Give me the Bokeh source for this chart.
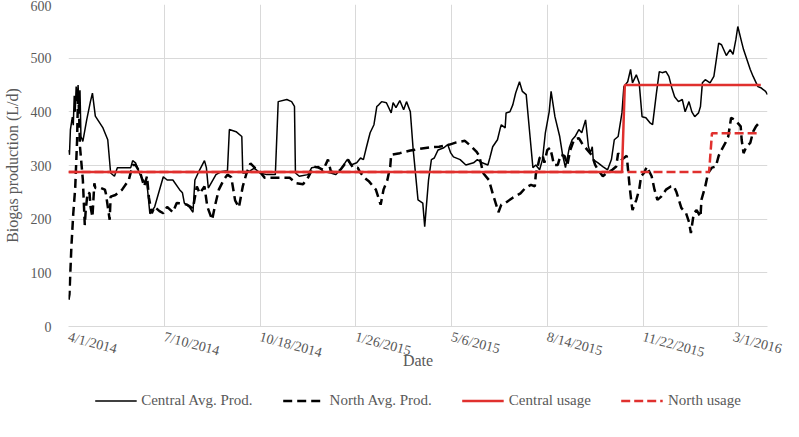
import datetime as dt
import pandas as pd
from bokeh.plotting import figure
from bokeh.layouts import column
from bokeh.models import FixedTicker, Legend, LegendItem, Range1d
from bokeh.embed import file_html
from bokeh.resources import INLINE

# ---------------- data ----------------
start_date = "2014-04-01"
end_date = "2016-03-31"
tick_labels = ["4/1/2014", "7/10/2014", "10/18/2014", "1/26/2015",
               "5/6/2015", "8/14/2015", "11/22/2015", "3/1/2016"]
y_ticks = [0, 100, 200, 300, 400, 500, 600]
series_names = ["Central Avg. Prod.", "North Avg. Prod.", "Central usage", "North usage"]

# days since 4/1/2014
central_day = [0, 1, 2, 4, 5, 6, 7, 8, 9, 10, 11, 12, 13, 15, 19, 23, 25, 28, 36, 41,
               44, 48, 51, 65, 67, 70, 74, 77, 82, 85, 90, 99, 103, 109, 116, 119, 121,
               126, 130, 132, 137, 142, 144, 146, 154, 160, 166, 168, 175, 181, 182, 186,
               194, 200, 207, 216, 219, 228, 233, 236, 237, 241, 250, 254, 261, 266, 274,
               279, 284, 291, 295, 301, 305, 308, 311, 315, 319, 322, 324, 327, 332, 337,
               339, 342, 346, 350, 353, 357, 360, 361, 365, 370, 372, 376, 379, 382, 386,
               392, 396, 399, 402, 409, 415, 423, 427, 432, 438, 440, 443, 448, 451, 452,
               456, 457, 461, 464, 467, 471, 474, 478, 482, 485, 488, 492, 495, 498, 502,
               504, 508, 513, 516, 519, 523, 526, 529, 533, 536, 540, 543, 545, 547, 548,
               553, 558, 563, 567, 570, 574, 578, 580, 584, 587, 589, 593, 596, 599, 603,
               607, 610, 614, 617, 620, 624, 627, 630, 633, 637, 641, 644, 648, 651, 654,
               658, 660, 662, 665, 670, 674, 677, 679, 682, 687, 691, 694, 697, 699, 703,
               705, 712, 715, 720, 723, 728, 730]
central_val = [329, 320, 367, 390, 375, 430, 400, 447, 420, 450, 410, 440, 354, 345, 385,
               420, 435, 392, 370, 348, 286, 280, 296, 296, 309, 305, 286, 275, 265, 210,
               223, 279, 273, 273, 255, 249, 230, 223, 213, 273, 292, 309, 296, 258, 283,
               289, 290, 367, 363, 354, 286, 286, 295, 286, 283, 283, 419, 423, 419, 410,
               286, 280, 283, 296, 298, 289, 286, 283, 292, 311, 301, 305, 314, 311, 333,
               361, 376, 410, 413, 419, 417, 398, 417, 408, 421, 404, 419, 400, 329, 311,
               236, 230, 186, 273, 311, 314, 329, 333, 339, 324, 316, 311, 301, 305, 311,
               305, 301, 314, 335, 348, 370, 376, 370, 398, 400, 413, 435, 456, 438, 432,
               354, 296, 301, 292, 311, 361, 400, 438, 391, 354, 320, 296, 333, 348, 354,
               367, 361, 385, 335, 324, 335, 311, 305, 298, 292, 311, 348, 354, 398, 447,
               456, 479, 454, 469, 454, 391, 389, 380, 376, 435, 475, 473, 475, 466, 445,
               428, 419, 423, 400, 419, 400, 391, 398, 410, 454, 460, 454, 466, 503, 528,
               525, 505, 516, 507, 535, 559, 530, 516, 479, 466, 447, 445, 438, 432]

north_day = [0, 1, 3, 5, 7, 9, 10, 11, 12, 15, 17, 18, 20, 22, 23, 25, 27, 28, 34, 38,
             39, 43, 44, 49, 56, 63, 67, 70, 75, 79, 82, 84, 87, 90, 95, 99, 103, 109,
             113, 119, 124, 130, 134, 137, 142, 145, 150, 153, 157, 162, 166, 170, 174,
             178, 182, 186, 190, 195, 200, 205, 214, 225, 231, 238, 245, 250, 256, 261,
             266, 271, 274, 279, 284, 292, 297, 302, 304, 309, 314, 321, 326, 329, 333,
             336, 337, 346, 357, 367, 378, 387, 398, 405, 414, 421, 426, 429, 433, 439,
             443, 449, 452, 456, 464, 469, 472, 477, 483, 487, 488, 492, 495, 497, 500,
             503, 505, 507, 511, 514, 518, 521, 524, 528, 533, 536, 540, 547, 550, 553,
             558, 562, 568, 572, 574, 578, 583, 586, 588, 589, 593, 596, 598, 601, 604,
             609, 612, 615, 619, 624, 629, 632, 635, 640, 645, 648, 650, 653, 656, 660,
             661, 665, 668, 672, 676, 679, 682, 686, 689, 692, 696, 702, 703, 705, 708,
             712, 715, 718, 721]
north_val = [50, 60, 148, 211, 258, 348, 440, 400, 335, 273, 189, 217, 250, 248, 223, 204,
             267, 258, 258, 255, 248, 199, 242, 245, 255, 273, 301, 301, 286, 261, 280, 240,
             211, 223, 215, 211, 223, 213, 230, 229, 227, 220, 261, 248, 261, 223, 199, 225,
             255, 273, 283, 278, 235, 222, 261, 286, 304, 295, 288, 277, 277, 277, 277, 267,
             265, 277, 298, 296, 292, 311, 289, 286, 292, 311, 296, 296, 289, 277, 270, 255,
             227, 255, 273, 298, 320, 323, 328, 331, 334, 335, 339, 343, 346, 335, 326, 318,
             286, 273, 248, 213, 227, 230, 240, 245, 248, 258, 264, 261, 283, 314, 320, 305,
             329, 333, 318, 301, 301, 320, 318, 301, 329, 348, 351, 342, 333, 318, 301, 292,
             280, 286, 292, 298, 323, 311, 318, 261, 230, 217, 236, 255, 280, 286, 298, 280,
             255, 236, 242, 255, 261, 262, 250, 221, 211, 195, 174, 211, 217, 204, 236, 261,
             286, 296, 298, 318, 329, 342, 354, 389, 385, 373, 348, 323, 335, 342, 363, 373,
             379]

central_usage_day = [0, 578, 581, 723]
central_usage_val = [288, 288, 450, 450]
north_usage_day = [0, 669, 672, 720]
north_usage_val = [288, 288, 360, 360]

# ---------------- helpers ----------------
t0 = pd.Timestamp(start_date)


def to_dates(days):
    return [t0 + pd.Timedelta(days=d) for d in days]


tick_ms = [int(pd.Timestamp(dt.datetime.strptime(s, "%m/%d/%Y")).value // 10**6)
           for s in tick_labels]

FONT = "Liberation Serif"
TXT = "#595959"
GRID = "#d9d9d9"
RED = "#e0302e"
styles = [dict(line_color="black", line_width=1.5),
          dict(line_color="black", line_width=2.5, line_dash="9 5"),
          dict(line_color=RED, line_width=2.5),
          dict(line_color=RED, line_width=2.5, line_dash="9 4")]

p = figure(width=783, height=380, x_axis_type="datetime",
           x_range=Range1d(t0, pd.Timestamp(end_date)), y_range=Range1d(0, 600),
           output_backend="svg", toolbar_location=None,
           min_border_left=59, min_border_right=16, min_border_top=4,
           min_border_bottom=54)
p.outline_line_color = None
p.background_fill_color = "white"
p.border_fill_color = "white"

p.line(to_dates(central_day), central_val, **styles[0])
p.line(to_dates(north_day), north_val, **styles[1])
p.line(to_dates(central_usage_day), central_usage_val, **styles[2])
p.line(to_dates(north_usage_day), north_usage_val, **styles[3])

# axes
xa = p.xaxis[0]
xa.ticker = FixedTicker(ticks=tick_ms)
xa.major_label_overrides = {t: s for t, s in zip(tick_ms, tick_labels)}
xa.major_label_orientation = -0.26
xa.axis_label = "Date"
ya = p.yaxis[0]
ya.ticker = FixedTicker(ticks=y_ticks)
ya.axis_label = "Biogas production (L/d)"

for ax in (xa, ya):
    ax.major_tick_line_color = None
    ax.minor_tick_line_color = None
    ax.major_label_text_font = FONT
    ax.major_label_text_font_size = "14px"
    ax.major_label_text_color = TXT
    ax.axis_label_text_font = FONT
    ax.axis_label_text_font_size = "16px"
    ax.axis_label_text_font_style = "normal"
    ax.axis_label_text_color = TXT
xa.axis_line_color = GRID
ya.axis_line_color = None
xa.major_label_standoff = 4
ya.major_label_standoff = 11
xa.axis_label_standoff = -18
ya.axis_label_standoff = 7

p.xgrid.ticker = FixedTicker(ticks=tick_ms)
p.ygrid.ticker = FixedTicker(ticks=y_ticks)
p.xgrid.grid_line_color = GRID
p.ygrid.grid_line_color = GRID

# ---------------- legend strip below the chart ----------------
lg = figure(width=783, height=40, output_backend="svg", toolbar_location=None,
            x_range=Range1d(0, 1), y_range=Range1d(0, 1),
            x_axis_location=None, y_axis_location=None,
            min_border_left=67, min_border_right=8, min_border_top=0,
            min_border_bottom=0)
lg.outline_line_color = None
lg.xgrid.visible = False
lg.ygrid.visible = False
# key-only renderers, placed outside the visible range of the strip
dummies = [lg.line([5, 6], [5, 6], **st) for st in styles]

legend = Legend(items=[LegendItem(label=n, renderers=[r])
                       for n, r in zip(series_names, dummies)],
                orientation="horizontal", location="center",
                glyph_width=42, glyph_height=16, label_standoff=5, spacing=30,
                padding=0, margin=0, border_line_color=None, background_fill_alpha=0,
                label_text_font=FONT, label_text_font_size="15px",
                label_text_color=TXT)
lg.add_layout(legend)

layout = column(p, lg, spacing=0)
open("out.html", "w").write(file_html(layout, INLINE))
